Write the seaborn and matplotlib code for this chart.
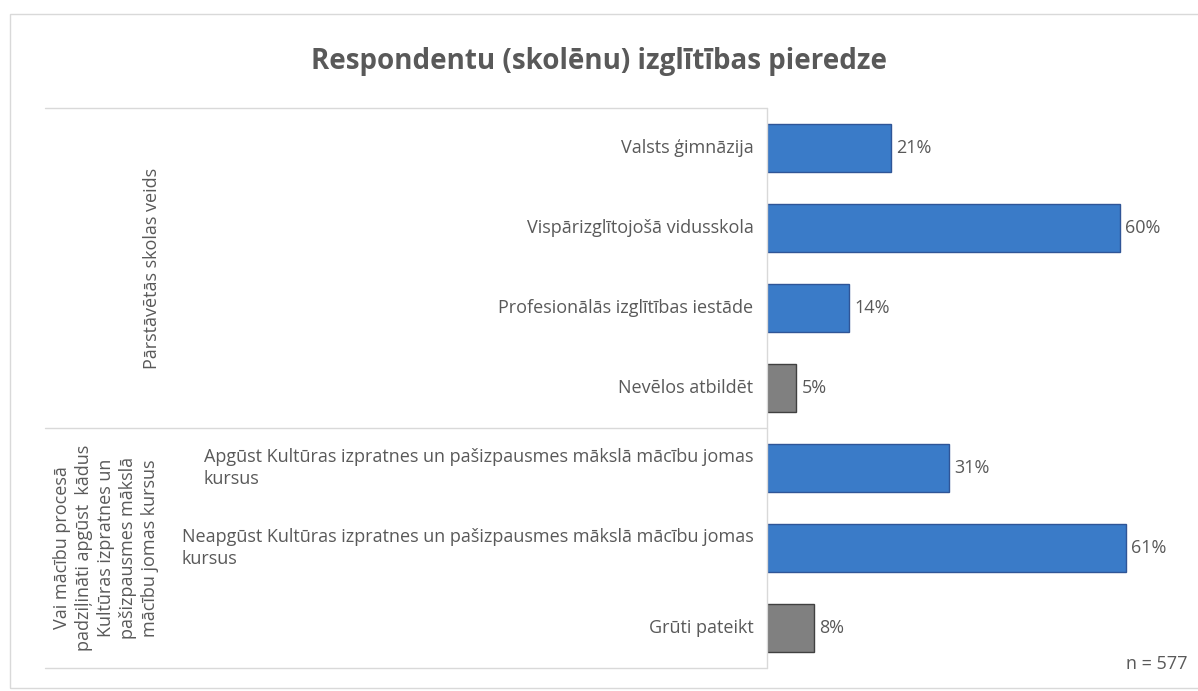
import matplotlib.pyplot as plt
import pandas as pd
import seaborn as sns
from matplotlib.lines import Line2D
from matplotlib.patches import Rectangle

categories = [
    "Valsts ģimnāzija",
    "Vispārizglītojošā vidusskola",
    "Profesionālās izglītības iestāde",
    "Nevēlos atbildēt",
    "Apgūst Kultūras izpratnes un pašizpausmes mākslā mācību jomas\nkursus",
    "Neapgūst Kultūras izpratnes un pašizpausmes mākslā mācību jomas\nkursus",
    "Grūti pateikt",
]
values = [21, 60, 14, 5, 31, 61, 8]
kinds = ["main", "main", "main", "other", "main", "main", "other"]
groups = ["Pārstāvētās skolas veids",
          "Vai mācību procesā\npadziļināti apgūst  kādus\nKultūras izpratnes un\npašizpausmes mākslā\nmācību jomas kursus"]
group_sizes = [4, 3]

TEXT = "#595959"
palette = {"main": "#3A7BC8", "other": "#808080"}
edges = {"main": "#2F5597", "other": "#404040"}

sns.set_theme(style="white")
plt.rcParams["font.family"] = ["Open Sans", "DejaVu Sans"]

df = pd.DataFrame({"cat": categories, "val": values, "kind": kinds})

W, H = 1198, 691
fig = plt.figure(figsize=(W / 100, H / 100), dpi=100)

# outer chart frame
fig.patches.append(Rectangle((10 / W, 0.005), 1.2, 1 - 14 / H - 0.005, transform=fig.transFigure,
                             fill=False, edgecolor="#D9D9D9", lw=1))

ax_left, ax_top, ax_bot = 767, 108, 668
px_per_pct = (1120 - 767) / 60
xmax = 70
ax = fig.add_axes([ax_left / W, 1 - ax_bot / H, xmax * px_per_pct / W, (ax_bot - ax_top) / H])

sns.barplot(data=df, y="cat", x="val", hue="kind", palette=palette, dodge=False,
            width=0.59, saturation=1, legend=False, ax=ax, orient="h")
for bar in ax.patches:
    idx = int(round(bar.get_y() + bar.get_height() / 2))
    if 0 <= idx < len(kinds):
        bar.set_edgecolor(edges[kinds[idx]])
        bar.set_linewidth(1)

ax.set_xlim(0, xmax)
ax.set_ylim(len(categories) - 0.5, -0.5)
ax.set_xlabel("")
ax.set_ylabel("")
ax.set_xticks([])
ax.set_yticks(range(len(categories)))
ax.set_yticklabels([])
ax.tick_params(left=False, bottom=False)
for s in ax.spines.values():
    s.set_visible(False)

for i, (c, v) in enumerate(zip(categories, values)):
    ax.text(v + 0.9, i, f"{v}%", va="center", ha="left", fontsize=13, color=TEXT)
    ax.text(-2.3, i, c, va="center", ha="right", multialignment="left", fontsize=13,
            color=TEXT, linespacing=1.3)

# table lines on the left
line_kw = dict(transform=ax.transData, color="#D9D9D9", lw=1, clip_on=False)
x_table = -(ax_left - 45) / px_per_pct
edges_y = [-0.5]
acc = -0.5
for n in group_sizes:
    acc += n
    edges_y.append(acc)
for y in edges_y:
    ax.add_line(Line2D([x_table, 0], [y, y], **line_kw))
ax.add_line(Line2D([0, 0], [-0.5, len(categories) - 0.5], **line_kw))

group_x = [152, 106]
for g, gx, y0, y1 in zip(groups, group_x, edges_y[:-1], edges_y[1:]):
    ax.text(-(ax_left - gx) / px_per_pct, (y0 + y1) / 2, g,
            rotation=90, va="center", ha="center", multialignment="center",
            fontsize=13, color=TEXT, linespacing=1.3)

fig.text(0.5, 1 - 62 / H, "Respondentu (skolēnu) izglītības pieredze", ha="center", va="center",
         fontsize=20, fontweight="bold", color=TEXT)
fig.text(1188 / W, 1 - 664 / H, "n = 577", ha="right", va="center", fontsize=13, color=TEXT)

fig.savefig("out.png", dpi=100)
